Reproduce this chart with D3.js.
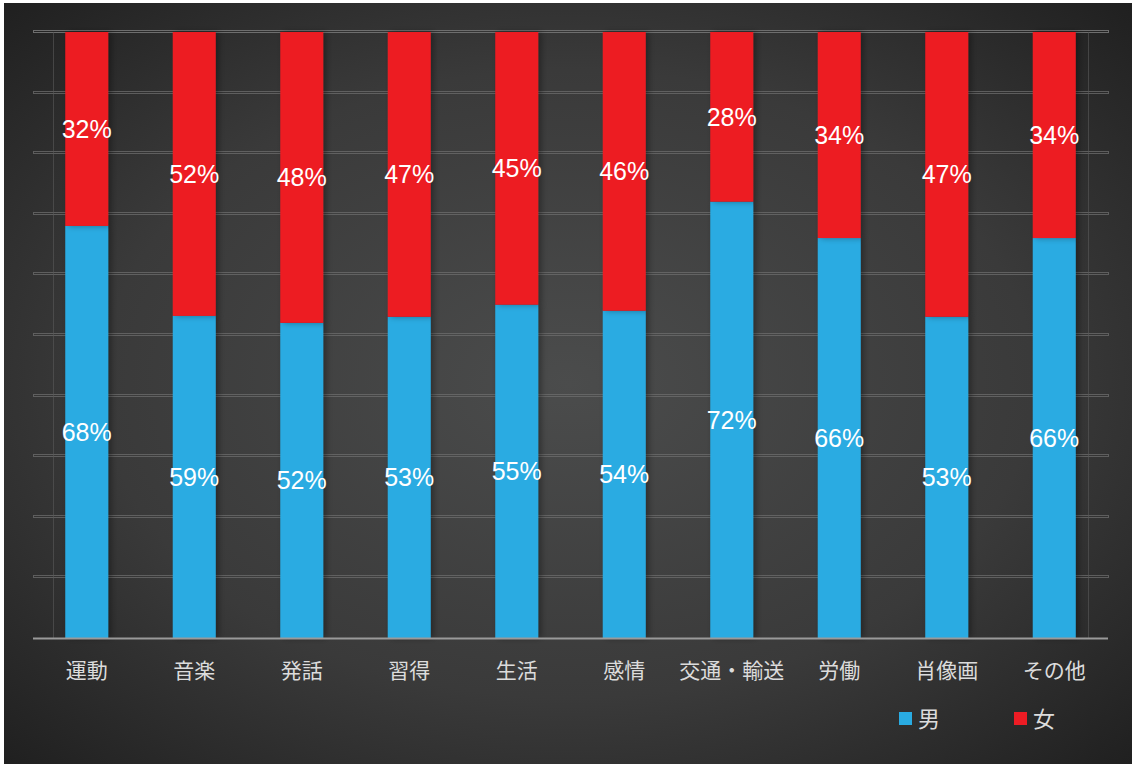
<!DOCTYPE html>
<html>
<head>
<meta charset="utf-8">
<script src="https://cdn.jsdelivr.net/npm/d3@7/dist/d3.min.js"></script>
<style>
  html, body { margin: 0; padding: 0; background: #ffffff; }
  svg { display: block; }
</style>
</head>
<body>
<svg id="chart" width="1132" height="764"></svg>
<script>
// Categories and the share of each gender per category (percent labels)
const categories = ["運動", "音楽", "発話", "習得", "生活", "感情", "交通・輸送", "労働", "肖像画", "その他"];
const male   = [68, 59, 52, 53, 55, 54, 72, 66, 53, 66];
const female = [32, 52, 48, 47, 45, 46, 28, 34, 47, 34];
const seriesNames = ["男", "女"];
const seriesColors = ["#29abe2", "#ed1c24"];
const gridTicks = [0, 0.1, 0.2, 0.3, 0.4, 0.5, 0.6, 0.7, 0.8, 0.9, 1];

const svg = d3.select("#chart");
const W = 1132, H = 764;

const defs = svg.append("defs");
const grad = defs.append("radialGradient")
  .attr("id", "bg").attr("cx", "50%").attr("cy", "50%").attr("r", "75%");
grad.append("stop").attr("offset", "0%").attr("stop-color", "#4b4c4c");
grad.append("stop").attr("offset", "55%").attr("stop-color", "#3a3a3a");
grad.append("stop").attr("offset", "100%").attr("stop-color", "#1c1c1c");

const shadow = defs.append("filter").attr("id", "shadow")
  .attr("x", "-20%").attr("y", "-5%").attr("width", "160%").attr("height", "110%");
shadow.append("feDropShadow").attr("dx", 3).attr("dy", 0).attr("stdDeviation", 3)
  .attr("flood-color", "#000").attr("flood-opacity", 0.35);

// Background panel
svg.append("rect").attr("x", 4).attr("y", 3).attr("width", W - 4).attr("height", H - 3)
  .attr("fill", "url(#bg)");

const margin = { left: 33, right: 24, top: 32, bottom: 126 };
const x = d3.scaleBand().domain(categories)
  .range([margin.left, W - margin.right])
  .paddingInner(0.6).paddingOuter(0.3);
const y = d3.scaleLinear().domain([0, 1]).range([H - margin.bottom, margin.top]);

// Horizontal gridlines (double hairline look)
const grid = svg.append("g");
gridTicks.slice(1).forEach(t => {
  const yy = Math.round(y(t));
  grid.append("rect")
    .attr("x", margin.left + 0.5).attr("y", yy - 1.5)
    .attr("width", W - margin.right - margin.left).attr("height", 2)
    .attr("fill", "none").attr("stroke", "#6e6e6e").attr("stroke-width", 1)
    .attr("opacity", t === 1 ? 1 : 0.75);
});
// faint vertical frame lines
[margin.left + 20, W - margin.right - 20].forEach(xx => {
  svg.append("line").attr("x1", xx + 0.5).attr("x2", xx + 0.5)
    .attr("y1", y(1)).attr("y2", y(0))
    .attr("stroke", "#5a5a5a").attr("stroke-width", 1).attr("opacity", 0.6);
});

// Stack normalised to 100%
const rows = categories.map((c, i) => ({ cat: c, m: male[i], f: female[i] }));
const stack = d3.stack().keys(["m", "f"]).offset(d3.stackOffsetExpand);
const layers = stack(rows);
const raw = { m: male, f: female };

const gBars = svg.append("g");
layers.forEach((layer, li) => {
  gBars.selectAll(null).data(layer).enter().append("rect")
    .attr("x", d => x(d.data.cat))
    .attr("width", x.bandwidth())
    .attr("y", d => y(d[1]))
    .attr("height", d => y(d[0]) - y(d[1]))
    .attr("fill", seriesColors[li])
    .attr("filter", "url(#shadow)");
});

// Axis baseline
svg.append("line").attr("x1", margin.left).attr("x2", W - margin.right)
  .attr("y1", y(0) + 0.5).attr("y2", y(0) + 0.5)
  .attr("stroke", "#9a9a9a").attr("stroke-width", 2);

// Value labels
const gLab = svg.append("g");
layers.forEach(layer => {
  gLab.selectAll(null).data(layer).enter().append("text")
    .attr("x", d => x(d.data.cat) + x.bandwidth() / 2)
    .attr("y", d => (y(d[0]) + y(d[1])) / 2)
    .attr("dy", "0.36em")
    .attr("text-anchor", "middle")
    .attr("font-family", "Liberation Sans, Arial, sans-serif")
    .attr("font-size", 25)
    .attr("fill", "#ffffff")
    .text((d, i) => raw[layer.key][i] + "%");
});

// Category axis
const xAxis = svg.append("g").attr("transform", `translate(0,${y(0)})`)
  .call(d3.axisBottom(x).tickSize(0).tickPadding(25));
xAxis.select(".domain").remove();
xAxis.selectAll("text")
  .attr("font-family", "Noto Sans CJK JP, sans-serif")
  .attr("font-size", 21)
  .attr("fill", "#dcdcdc");

// Legend
const legend = svg.append("g");
const legendX = [899, 1014];
seriesNames.forEach((name, i) => {
  legend.append("rect").attr("x", legendX[i]).attr("y", 712)
    .attr("width", 13).attr("height", 13).attr("fill", seriesColors[i]);
  legend.append("text").attr("x", legendX[i] + 19).attr("y", 719)
    .attr("dy", "0.36em")
    .attr("font-family", "Noto Sans CJK JP, sans-serif")
    .attr("font-size", 22).attr("fill", "#dcdcdc")
    .text(name);
});
</script>
</body>
</html>
